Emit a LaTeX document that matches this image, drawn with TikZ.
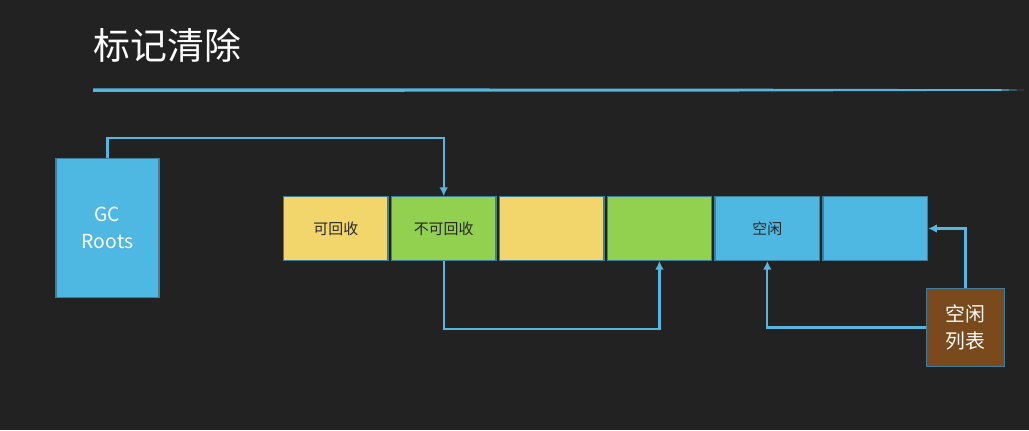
\documentclass[tikz,border=0pt]{standalone}
\usepackage{fontspec}
\setmainfont{Noto Sans CJK SC}
\usepackage{tikz}
\usetikzlibrary{matrix,arrows.meta,positioning}

\definecolor{board}{HTML}{222222}
\definecolor{skyblue}{HTML}{4FB8E2}
\definecolor{linkblue}{HTML}{56B6E0}
\definecolor{edgeblue}{HTML}{3C7F9C}
\definecolor{deadyellow}{HTML}{F2D66B}
\definecolor{livegreen}{HTML}{92D050}
\definecolor{listbrown}{HTML}{7B4A1C}

\tikzset{
	block/.style={draw=edgeblue, line width=0.8pt, minimum width=2.09cm, minimum height=1.27cm, inner sep=0pt, anchor=center, font=\fontsize{8.5}{10}\selectfont, text=black!85},
	link/.style={draw=linkblue, line width=1.2pt, -{Latex[length=5pt,width=5pt]}}
}

\begin{document}
\begin{tikzpicture}[x=0.02cm, y=-0.02cm]
\fill[board] (0,0) rectangle (1029,430);
\node[anchor=west, text=white, font=\fontsize{21}{24}\selectfont, inner sep=0pt] (title) at (93,45) {标记清除};
\fill[linkblue] (93,88.3) -- (700,88.6) -- (1000,89.2) -- (1024,90) -- (1000,90.8) -- (700,91.6) -- (93,91.9) -- cycle;

\node[block, fill=skyblue, text=white, minimum width=2.06cm, minimum height=2.77cm, align=center, font=\fontsize{11}{15}\selectfont] (gc) at (107.5,228) {GC\\Roots};

\matrix (mem) [matrix of nodes, nodes={block}, column sep=0.04cm, inner sep=0pt, anchor=west] at (282.5,228.5)
{
	|[fill=deadyellow]| 可回收 & |[fill=livegreen]| 不可回收 & |[fill=deadyellow]| & |[fill=livegreen]| & |[fill=skyblue]| 空闲 & |[fill=skyblue]| \\
};

\node[block, fill=listbrown, text=white, minimum width=1.55cm, minimum height=1.55cm, align=center, font=\fontsize{11.3}{15}\selectfont] (free) at (965.5,327.5) {空闲\\列表};

\draw[link] (gc.north) -- ++(0,-20) -| (mem-1-2.north);
\draw[link] (mem-1-2.south) -- ++(0,68) -| (mem-1-4.south);
\draw[link] (free.west) -| (mem-1-5.south);
\draw[link] (free.north) |- (mem-1-6.east);
\end{tikzpicture}
\end{document}
